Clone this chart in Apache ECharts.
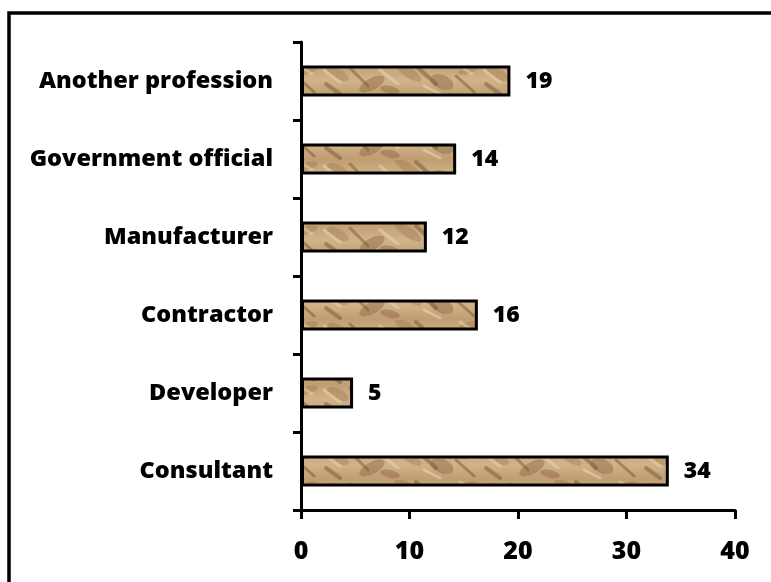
<!DOCTYPE html>
<html>
<head>
<meta charset="utf-8">
<script src="https://cdn.jsdelivr.net/npm/echarts@6/dist/echarts.min.js"></script>
<style>
  html, body { margin: 0; padding: 0; background: #fff; }
  #main { width: 771px; height: 582px; }
</style>
</head>
<body>
<div id="main"></div>
<script>
// categories, bottom to top
var categories = ['Consultant', 'Developer', 'Contractor', 'Manufacturer', 'Government official', 'Another profession'];
// bar lengths (labels show them rounded)
var values = [33.9, 4.8, 16.3, 11.6, 14.3, 19.3];
var xTicks = [0, 10, 20, 30, 40];

// stone-like texture for the bars
function makeTexture() {
  var c = document.createElement('canvas');
  c.width = 160; c.height = 32;
  var ctx = c.getContext('2d');
  var g = ctx.createLinearGradient(0, 0, 0, 32);
  g.addColorStop(0, '#c29e73');
  g.addColorStop(0.5, '#d1b38b');
  g.addColorStop(1, '#c09c71');
  ctx.fillStyle = g;
  ctx.fillRect(0, 0, 160, 32);
  // soft darker blotches
  var blobs = [[18, 10, 12, 5, 0.5], [52, 20, 14, 6, -0.5], [88, 8, 16, 5, 0.6], [122, 18, 12, 7, 0.4], [148, 6, 10, 4, -0.3], [70, 26, 10, 4, 0.2]];
  blobs.forEach(function (b, i) {
    ctx.save();
    ctx.translate(b[0], b[1]);
    ctx.rotate(b[4]);
    ctx.fillStyle = i % 2 ? 'rgba(125,90,54,0.38)' : 'rgba(145,108,68,0.33)';
    ctx.beginPath();
    ctx.ellipse(0, 0, b[2], b[3], 0, 0, Math.PI * 2);
    ctx.fill();
    ctx.restore();
  });
  // darker diagonal streaks
  var streaks = [[30, 4, 48, 22], [96, 2, 116, 20], [136, 12, 154, 28], [6, 20, 20, 30]];
  ctx.lineCap = 'round';
  streaks.forEach(function (s, i) {
    ctx.strokeStyle = 'rgba(110,78,45,0.45)';
    ctx.lineWidth = 3 + (i % 2);
    ctx.beginPath();
    ctx.moveTo(s[0], s[1]);
    ctx.lineTo(s[2], s[3]);
    ctx.stroke();
  });
  // light highlights
  var lights = [[4, 6, 20, 18], [60, 6, 78, 20], [104, 22, 120, 30], [140, 2, 152, 10]];
  lights.forEach(function (s) {
    ctx.strokeStyle = 'rgba(236,218,186,0.5)';
    ctx.lineWidth = 3;
    ctx.beginPath();
    ctx.moveTo(s[0], s[1]);
    ctx.lineTo(s[2], s[3]);
    ctx.stroke();
  });
  return c;
}

var myChart = echarts.init(document.getElementById('main'));
var option = {
  backgroundColor: '#fff',
  animation: false,
  graphic: [{
    type: 'rect',
    shape: { x: 9, y: 13, width: 800, height: 600 },
    style: { fill: 'none', stroke: '#000', lineWidth: 3.5 },
    silent: true
  }],
  grid: { left: 301, right: 36, top: 42, bottom: 72 },
  xAxis: {
    type: 'value',
    min: 0,
    max: 40,
    interval: 10,
    splitLine: { show: false },
    axisLine: { show: true, lineStyle: { color: '#000', width: 3 } },
    axisTick: { show: true, length: 9, lineStyle: { color: '#000', width: 3 } },
    axisLabel: {
      margin: 29,
      color: '#000',
      fontFamily: 'Open Sans',
      fontWeight: 800,
      fontSize: 25,
      formatter: function (v) { return xTicks.indexOf(v) >= 0 ? String(v) : ''; }
    }
  },
  yAxis: {
    type: 'category',
    data: categories,
    axisLine: { show: true, lineStyle: { color: '#000', width: 3 } },
    axisTick: { show: true, length: 8, lineStyle: { color: '#000', width: 3 } },
    axisLabel: {
      margin: 28,
      color: '#000',
      fontFamily: 'Open Sans',
      fontWeight: 800,
      fontSize: 23.5,
      padding: [7, 0, 0, 0]
    }
  },
  series: [{
    type: 'bar',
    data: values,
    barWidth: '40%',
    itemStyle: {
      color: { image: makeTexture(), repeat: 'repeat' },
      borderColor: '#000',
      borderWidth: 3
    },
    label: {
      show: true,
      position: 'right',
      distance: 15,
      color: '#000',
      fontFamily: 'Open Sans',
      fontWeight: 800,
      fontSize: 23,
      padding: [6, 0, 0, 0],
      formatter: function (p) { return Math.round(p.value); }
    }
  }]
};
myChart.setOption(option);
</script>
</body>
</html>
